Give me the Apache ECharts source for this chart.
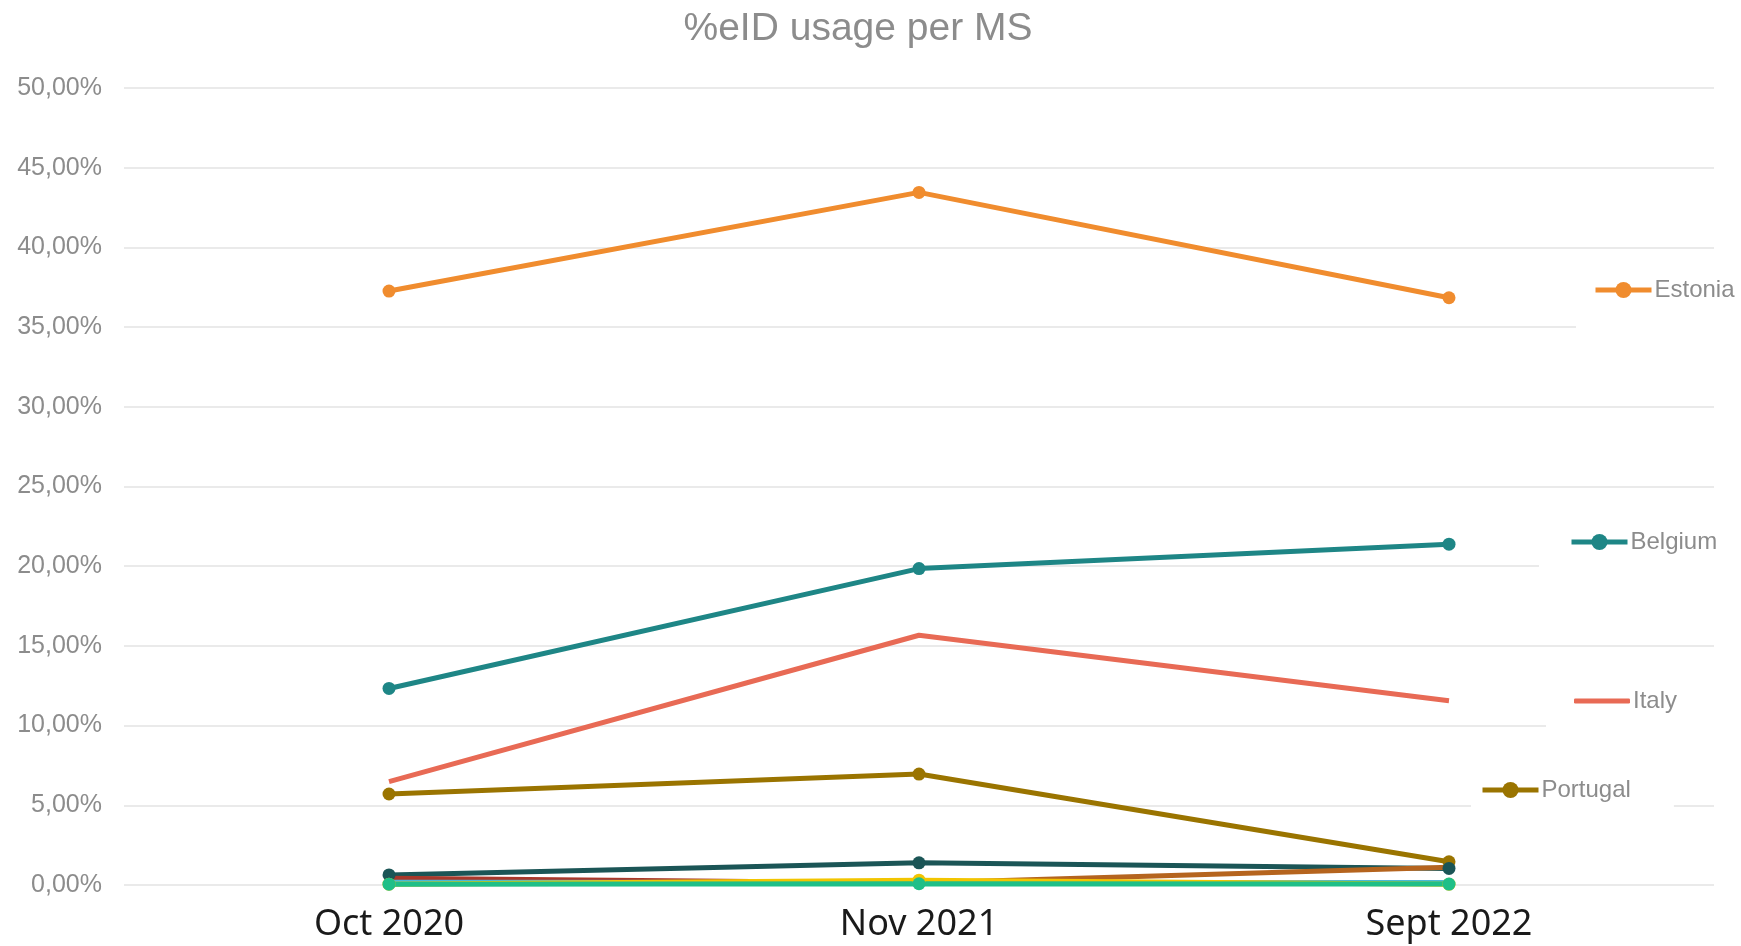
<!DOCTYPE html>
<html>
<head>
<meta charset="utf-8">
<script src="https://cdn.jsdelivr.net/npm/echarts@6/dist/echarts.min.js"></script>
<style>html,body{margin:0;padding:0;background:#fff;}#c{width:1741px;height:946px;}</style>
</head>
<body>
<div id="c"></div>
<script>
var categories = ['Oct 2020', 'Nov 2021', 'Sept 2022'];
var yTicks = [0, 5, 10, 15, 20, 25, 30, 35, 40, 45, 50];

var estonia  = [37.26, 43.45, 36.84];
var belgium  = [12.33, 19.85, 21.38];
var italy    = [6.48, 15.67, 11.56];
var portugal = [5.71, 6.96, 1.46];
var msDarkTeal = [0.63, 1.39, 1.04];
var msRed      = [0.42, 0.12, 0.10];
var msBrown    = [0.08, 0.12, 1.12];
var msBlue     = [0.18, 0.16, 0.16];
var msYellow   = [0.05, 0.30, 0.05];
var msGreen    = [0.05, 0.08, 0.06];

var chart = echarts.init(document.getElementById('c'));

function lineSeries(name, data, color, withSymbol) {
  return {
    name: name,
    type: 'line',
    data: data,
    symbol: withSymbol ? 'circle' : 'none',
    symbolSize: 13,
    lineStyle: { color: color, width: 5 },
    itemStyle: { color: color },
    emphasis: { disabled: true },
    animation: false
  };
}

function legendAt(item, left, top, pad, itemHeight) {
  return {
    data: [item],
    left: left,
    top: top,
    orient: 'horizontal',
    backgroundColor: '#ffffff',
    padding: pad,
    itemWidth: 56,
    itemHeight: itemHeight || 20,
    itemGap: 4,
    selectedMode: false,
    lineStyle: { width: 5 },
    textStyle: { color: '#8c8c8c', fontSize: 24, fontFamily: 'Liberation Sans, Arial', padding: [0, 0, 0, -2] }
  };
}

chart.setOption({
  backgroundColor: '#ffffff',
  title: {
    text: '%eID usage per MS',
    left: 853,
    textAlign: 'center',
    top: 5,
    textStyle: { color: '#8c8c8c', fontSize: 39, fontWeight: 'normal', fontFamily: 'Liberation Sans, Arial' }
  },
  legend: [
    legendAt('Estonia', 1576, 275, [3, 6, 40, 17]),
    legendAt('Belgium', 1539, 527, [3, 6, 20, 30]),
    legendAt({ name: 'Italy', icon: 'roundRect' }, 1546, 685, [4, 40, 18, 28], 5),
    legendAt('Portugal', 1471, 775, [3, 43, 12, 9])
  ],
  grid: { left: 124, right: 27, top: 88, bottom: 61, containLabel: false },
  xAxis: {
    type: 'category',
    data: categories,
    boundaryGap: true,
    axisLine: { show: false },
    axisTick: { show: false },
    axisLabel: { color: '#1a1a1a', fontSize: 36, fontFamily: 'Noto Sans, Open Sans', margin: 22 }
  },
  yAxis: {
    type: 'value',
    min: yTicks[0],
    max: yTicks[yTicks.length - 1],
    interval: 5,
    axisLine: { show: false },
    axisTick: { show: false },
    splitLine: { lineStyle: { color: '#e3e3e3', width: 1.5 } },
    axisLabel: {
      color: '#8c8c8c', fontSize: 25, fontFamily: 'Liberation Sans, Arial', margin: 22,
      formatter: function (v) { return v.toFixed(2).replace('.', ',') + '%'; }
    }
  },
  series: [
    lineSeries('Estonia', estonia, '#f08c2e', true),
    lineSeries('Belgium', belgium, '#1e8686', true),
    lineSeries('Italy', italy, '#e86a55', false),
    lineSeries('Portugal', portugal, '#9a7400', true),
    lineSeries('MS A', msDarkTeal, '#1b5556', true),
    lineSeries('MS B', msRed, '#a8382a', false),
    lineSeries('MS C', msBrown, '#b5641e', false),
    lineSeries('MS D', msBlue, '#4bb8d8', false),
    lineSeries('MS E', msYellow, '#f2c500', true),
    lineSeries('MS F', msGreen, '#1fbf88', true)
  ]
});
</script>
</body>
</html>
